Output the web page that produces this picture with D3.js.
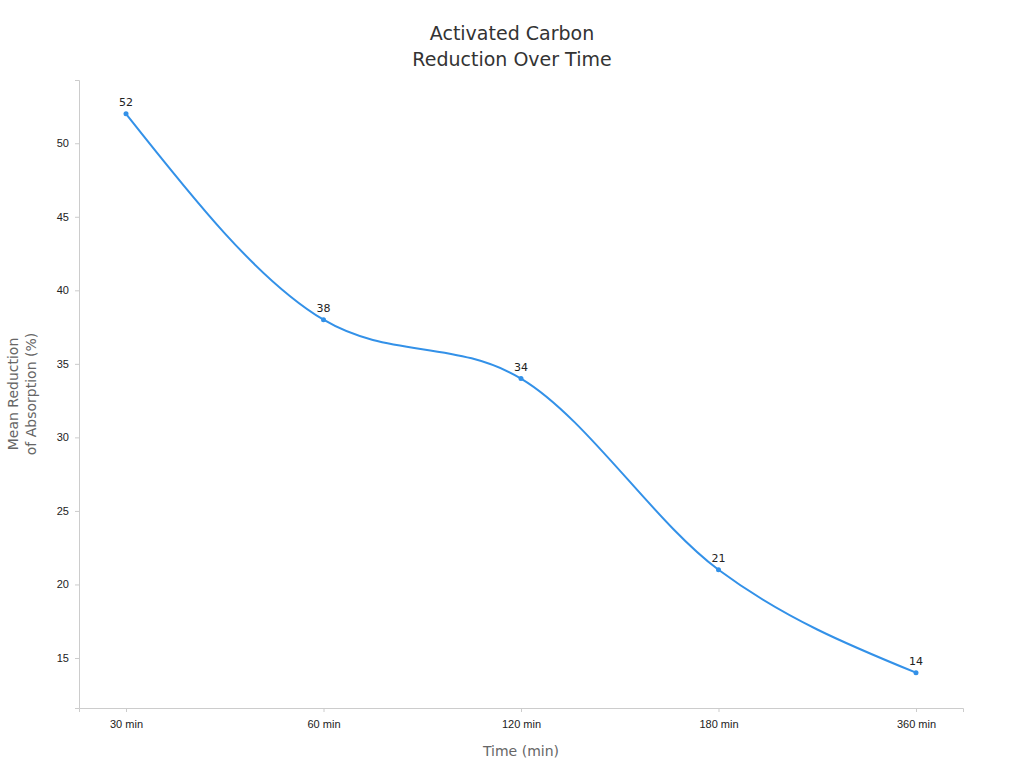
<!DOCTYPE html>
<html><head><meta charset="utf-8">
<script src="https://cdn.jsdelivr.net/npm/d3@7"></script>
<style>body{margin:0;background:#fff;font-family:"DejaVu Sans",sans-serif}</style>
</head><body>
<script>
// Chart data
var categories = ['30 min', '60 min', '120 min', '180 min', '360 min'];
var values = [52, 38, 34, 21, 14];
var yTicks = [15, 20, 25, 30, 35, 40, 45, 50];

var margin = {top: 80, right: 61, bottom: 60, left: 79},
    width = 1024 - margin.left - margin.right,
    height = 768 - margin.top - margin.bottom;

var svg = d3.select('body').append('svg')
    .attr('width', 1024).attr('height', 768)
    .style('font-family', '"DejaVu Sans", sans-serif');

var g = svg.append('g')
    .attr('transform', 'translate(' + margin.left + ',' + margin.top + ')');

var xScale = d3.scalePoint().domain(categories).range([0, width]).padding(0.238),
    yScale = d3.scaleLinear().domain([11.6, 54.3]).range([height, 0]);

// Axes
var yAxis = g.append('g').call(d3.axisLeft(yScale).tickValues(yTicks).tickSize(4).tickPadding(6));
var xAxis = g.append('g').attr('transform', 'translate(0,' + height + ')')
    .call(d3.axisBottom(xScale).tickSize(4).tickPadding(8));
[xAxis, yAxis].forEach(function(a) {
    a.selectAll('path,line').attr('stroke', '#ccc');
    a.selectAll('text').attr('fill', '#222').style('font-size', '11px');
});

var data = categories.map(function(c, i) { return [c, values[i]]; });

var line = d3.line()
    .x(function(d) { return xScale(d[0]); })
    .y(function(d) { return yScale(d[1]); })
    .curve(d3.curveMonotoneX);

g.append('path').attr('d', line(data))
    .attr('fill', 'none').attr('stroke', '#3391e8').attr('stroke-width', 2);

g.selectAll('circle').data(data).enter().append('circle')
    .attr('cx', function(d) { return xScale(d[0]); })
    .attr('cy', function(d) { return yScale(d[1]); })
    .attr('r', 2.5).attr('fill', '#3391e8');

g.selectAll('.lbl').data(data).enter().append('text')
    .attr('x', function(d) { return xScale(d[0]); })
    .attr('y', function(d) { return yScale(d[1]) - 8; })
    .attr('text-anchor', 'middle').style('font-size', '11px').attr('fill', '#222')
    .text(function(d) { return d[1]; });

// Titles
svg.append('text').attr('x', 512).attr('y', 40).attr('text-anchor', 'middle')
    .style('font-size', '19px').attr('fill', '#333').text('Activated Carbon');
svg.append('text').attr('x', 512).attr('y', 66).attr('text-anchor', 'middle')
    .style('font-size', '19px').attr('fill', '#333').text('Reduction Over Time');

svg.append('text').attr('x', 521).attr('y', 756).attr('text-anchor', 'middle')
    .style('font-size', '14px').attr('fill', '#666').text('Time (min)');

var yl = svg.append('text').attr('transform', 'translate(18,394) rotate(-90)')
    .attr('text-anchor', 'middle').style('font-size', '14px').attr('fill', '#666');
yl.append('tspan').attr('x', 0).attr('dy', 0).text('Mean Reduction');
yl.append('tspan').attr('x', 0).attr('dy', 18).text('of Absorption (%)');
</script>
</body></html>
